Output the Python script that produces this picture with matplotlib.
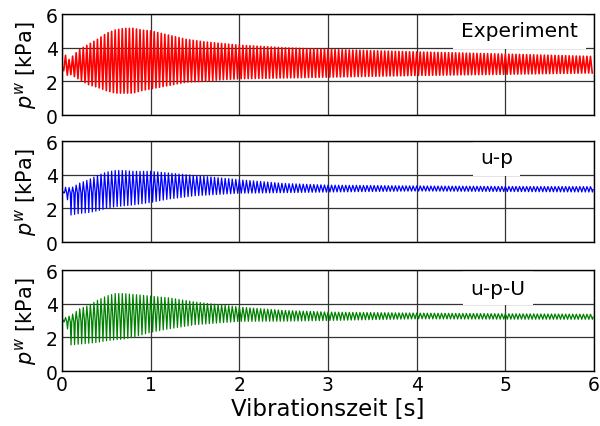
import numpy as np
import matplotlib.pyplot as plt

# envelope values (kPa)
t_exp = [0.0, 0.03, 0.05, 0.08, 0.1, 0.2, 0.3, 0.4, 0.5, 0.6, 0.7, 0.8, 0.9, 1.0, 1.2, 1.4, 1.6, 1.8, 2.0, 2.5, 3.0, 3.5, 4.0, 5.0, 6.0]
exp_hi = [2.9, 2.9, 4.2, 3.3, 3.4, 3.9, 4.2, 4.5, 4.85, 5.05, 5.15, 5.15, 5.05, 5.0, 4.75, 4.5, 4.35, 4.25, 4.15, 4.0, 3.9, 3.82, 3.75, 3.62, 3.48]
exp_lo = [2.7, 2.6, 2.6, 1.9, 2.4, 2.1, 1.8, 1.65, 1.45, 1.3, 1.3, 1.3, 1.45, 1.55, 1.75, 1.95, 2.0, 2.1, 2.15, 2.2, 2.25, 2.3, 2.35, 2.42, 2.5]

t_sim = [0.0, 0.05, 0.1, 0.2, 0.3, 0.4, 0.5, 0.6, 0.7, 0.8, 1.0, 1.2, 1.5, 2.0, 2.5, 3.0, 4.0, 5.0, 6.0]
up_hi = [3.05, 3.3, 3.2, 3.5, 3.7, 3.95, 4.15, 4.25, 4.25, 4.2, 4.2, 4.1, 3.95, 3.7, 3.48, 3.38, 3.33, 3.3, 3.29]
up_mid = [3.0, 2.9, 2.9, 2.9, 2.95, 3.0, 3.0, 3.05, 3.1, 3.1, 3.2, 3.25, 3.25, 3.2, 3.15, 3.15, 3.15, 3.13, 3.12]
up_lo = [3.0, 2.8, 1.6, 1.7, 1.75, 1.85, 2.0, 2.1, 2.15, 2.2, 2.35, 2.55, 2.75, 2.9, 2.93, 2.97, 3.03, 3.0, 2.97]

upU_hi = [3.1, 3.2, 3.3, 3.7, 3.9, 4.2, 4.45, 4.6, 4.6, 4.55, 4.45, 4.35, 4.1, 3.8, 3.6, 3.5, 3.44, 3.4, 3.37]
upU_mid = [3.05, 2.95, 2.9, 2.95, 3.0, 3.0, 3.05, 3.1, 3.15, 3.2, 3.3, 3.35, 3.4, 3.35, 3.3, 3.25, 3.25, 3.22, 3.2]
upU_lo = [3.0, 2.8, 1.55, 1.6, 1.65, 1.7, 1.8, 1.85, 1.9, 2.0, 2.3, 2.5, 2.75, 2.95, 2.96, 3.0, 3.1, 3.08, 3.07]

freq = 25.0  # oscillation frequency [Hz]
x_ticks = [0, 1, 2, 3, 4, 5, 6]
y_ticks = [0, 2, 4, 6]


def signal(t_env, levels, phases):
    # one cycle visits each envelope level at the given phase
    n = int(6.0 * freq)
    t = []
    for k in range(n):
        for ph in phases:
            t.append((k + ph) / freq)
    t = np.array(t)
    idx = np.arange(len(t)) % len(phases)
    env = np.array([np.interp(t, t_env, lv) for lv in levels])
    return t, env[idx, np.arange(len(t))]


t_r, y_r = signal(t_exp, [exp_hi, exp_lo], [0.0, 0.5])
t_b, y_b = signal(t_sim, [up_hi, up_mid, up_lo, up_mid], [0.0, 0.35, 0.55, 0.75])
t_g, y_g = signal(t_sim, [upU_hi, upU_mid, upU_lo, upU_mid], [0.0, 0.35, 0.55, 0.75])

fig = plt.figure(figsize=(6, 4.27), dpi=100)
boxes = [0.7283, 0.4309, 0.1288]
panels = [
    (t_r, y_r, 'red', 1.2, 'Experiment', 4.41, 5.91, 5.0),
    (t_b, y_b, 'blue', 0.9, 'u-p', 4.63, 5.17, 5.05),
    (t_g, y_g, 'green', 0.9, 'u-p-U', 4.52, 5.31, 4.9),
]

for i, (t, y, col, lw, name, bx0, bx1, ty) in enumerate(panels):
    ax = fig.add_axes([0.1033, boxes[i], 0.8867, 0.2365])
    ax.set_axisbelow(True)
    ax.grid(True, color='#333333', lw=0.9)
    ax.plot(t, y, color=col, lw=lw, zorder=2)
    ax.add_patch(plt.Rectangle((bx0, 3.93), bx1 - bx0, 2.0, facecolor='white', edgecolor='none', zorder=1.5))
    ax.text((bx0 + bx1) / 2, ty, name, ha='center', va='center', fontsize=14.5, zorder=3)
    ax.set_xlim(0, 6)
    ax.set_ylim(0, 6)
    ax.set_xticks(x_ticks)
    ax.set_yticks(y_ticks)
    ax.tick_params(length=0, labelsize=13.5, pad=3)
    ax.set_ylabel('$p^w$ [kPa]', fontsize=15, labelpad=5)
    for s in ax.spines.values():
        s.set_linewidth(1.0)
    if i < 2:
        ax.set_xticklabels([])
    else:
        ax.set_xlabel('Vibrationszeit [s]', fontsize=16.5, labelpad=2)

fig.savefig('out.png', dpi=100)
